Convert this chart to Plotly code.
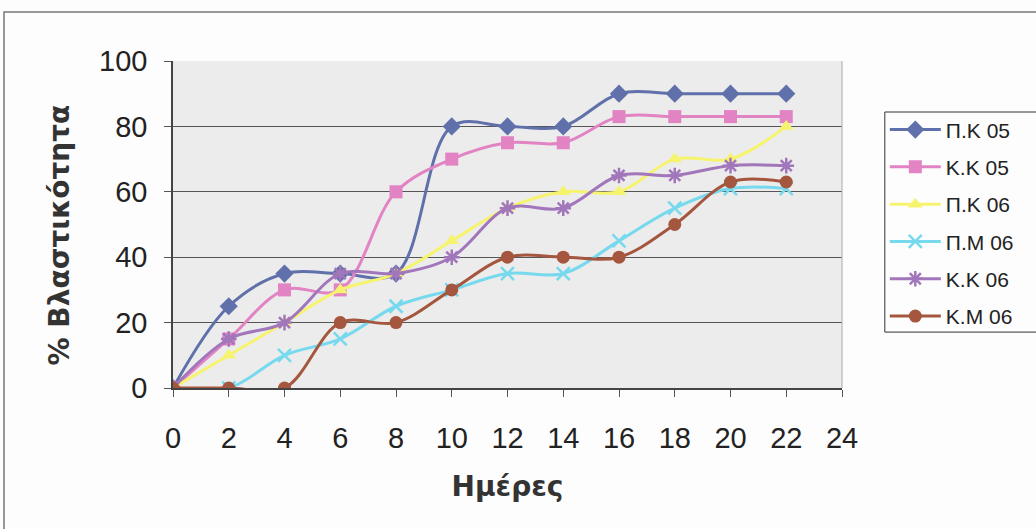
import plotly.graph_objects as go

# Days of measurement
days = [0, 2, 4, 6, 8, 10, 12, 14, 16, 18, 20, 22]

# Germination percentage per lot
pk05 = [0, 25, 35, 35, 35, 80, 80, 80, 90, 90, 90, 90]
kk05 = [0, 15, 30, 30, 60, 70, 75, 75, 83, 83, 83, 83]
pk06 = [0, 10, 20, 30, 35, 45, 55, 60, 60, 70, 70, 80]
pm06 = [0, 0, 10, 15, 25, 30, 35, 35, 45, 55, 61, 61]
kk06 = [0, 15, 20, 35, 35, 40, 55, 55, 65, 65, 68, 68]
km06 = [0, 0, 0, 20, 20, 30, 40, 40, 40, 50, 63, 63]

names = ["Π.Κ 05", "Κ.Κ 05", "Π.Κ 06", "Π.Μ 06", "Κ.Κ 06", "Κ.Μ 06"]
series = [pk05, kk05, pk06, pm06, kk06, km06]
colors = ["#5f70aa", "#e283c4", "#f6f46e", "#76d9ee", "#a276bb", "#a5563f"]
symbols = ["diamond", "square", "triangle-up", "x-thin", "asterisk", "circle"]
sizes = [14, 13, 13, 13, 13, 13]

FONT = "Liberation Sans, Arial, sans-serif"
TITLE_FONT = "DejaVu Sans, Verdana, sans-serif"

fig = go.Figure()
for name, ys, col, sym, sz in zip(names, series, colors, symbols, sizes):
    thin = sym in ("x-thin", "asterisk")
    fig.add_trace(go.Scatter(
        x=days, y=ys, name=name, mode="lines+markers",
        legendgroup=name,
        line=dict(color=col, width=3, shape="spline", smoothing=1.0),
        marker=dict(symbol=sym, size=sz, color=col,
                    line=dict(color=col, width=2.5 if thin else 0)),
    ))

tick_font = dict(family=FONT, size=29, color="#222")
title_font = dict(family=TITLE_FONT, size=28, color="#333")

fig.update_layout(
    width=1036, height=529,
    margin=dict(l=173, r=194, t=61, b=141),
    paper_bgcolor="#fdfdfd",
    plot_bgcolor="#ececec",
    font=dict(family=FONT, color="#222"),
    showlegend=True,
    legend=dict(
        x=1.064, y=0.852, xanchor="left", yanchor="top",
        bgcolor="rgba(0,0,0,0)", borderwidth=0,
        font=dict(family=FONT, size=21, color="#222"),
        tracegroupgap=7, itemwidth=51,
    ),
    xaxis=dict(
        range=[0, 24], tickvals=list(range(0, 26, 2)),
        showgrid=False, zeroline=False,
        showline=True, linecolor="#444", linewidth=1.5,
        ticks="outside", ticklen=7, tickcolor="#555",
        ticklabelstandoff=16,
        tickfont=tick_font,
        title=dict(text="<b>Ημέρες</b>", font=title_font, standoff=24),
    ),
    yaxis=dict(
        range=[0, 100], tickvals=[0, 20, 40, 60, 80, 100],
        showgrid=True, gridcolor="#555", gridwidth=1,
        zeroline=False,
        showline=True, linecolor="#444", linewidth=1.5,
        ticks="outside", ticklen=7, tickcolor="#555",
        ticklabelstandoff=11,
        tickfont=tick_font,
    ),
    annotations=[
        # vertical axis title, set slightly below the plot's mid-height
        dict(text="<b>% Βλαστικότητα</b>", font=title_font, textangle=-90,
             xref="paper", yref="paper", x=-0.169, y=0.5, yshift=-10,
             xanchor="center", yanchor="middle", showarrow=False),
    ],
    shapes=[
        # outer chart frame
        dict(type="rect", xref="paper", yref="paper",
             x0=-0.2526, y0=-0.45, x1=1.32, y1=1.15,
             line=dict(color="#777", width=1.5), layer="below"),
        # legend box, running past the right edge of the chart
        dict(type="rect", xref="paper", yref="paper",
             x0=1.064, y0=0.171, x1=1.32, y1=0.844,
             line=dict(color="#333", width=1), fillcolor="#fdfdfd", layer="below"),
        # right edge of the plotting area
        dict(type="line", xref="paper", yref="paper",
             x0=1, y0=0, x1=1, y1=1,
             line=dict(color="#aaa", width=1)),
    ],
)

fig.write_html("out.html")
